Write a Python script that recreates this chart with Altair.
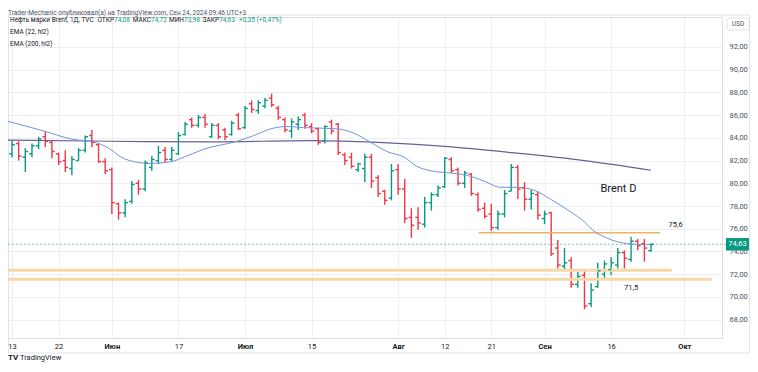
import altair as alt
import pandas as pd

# ---------------- data ----------------
dates = [d.strftime("%Y-%m-%d") for d in pd.bdate_range("2024-05-13", "2024-09-24")]

opens = [82.6, 83.5, 82.3, 82.6, 83.3, 84.1, 83.6, 82.6, 82.0, 81.3,
         82.0, 82.9, 84.2, 83.4, 81.9, 81.2, 78.2, 77.4, 78.4, 80.0,
         79.5, 81.4, 82.0, 82.9, 82.1, 82.6, 84.3, 85.6, 85.1, 85.8,
         84.1, 85.1, 84.7, 84.3, 86.0, 84.9, 87.0, 86.4, 86.8, 87.5,
         86.6, 85.6, 84.6, 85.2, 86.0, 85.0, 84.8, 83.7, 85.4, 85.2,
         82.5, 82.3, 81.2, 81.3, 82.3, 80.5, 79.3, 78.7, 81.2, 79.5,
         77.0, 77.0, 76.4, 78.3, 79.0, 79.7, 82.1, 81.2, 80.0, 80.8,
         79.0, 77.8, 77.3, 76.1, 77.3, 79.3, 81.4, 79.6, 78.6, 79.0,
         76.9, 77.4, 74.3, 72.7, 73.2, 71.1, 71.9, 69.4, 70.9, 72.0,
         72.4, 72.8, 73.9, 73.3, 74.9, 74.7, 74.08]
highs = [83.8, 83.7, 83.1, 83.5, 84.1, 84.6, 83.8, 82.7, 82.9, 82.4,
         83.1, 84.2, 84.7, 83.5, 82.2, 81.4, 78.3, 78.6, 80.2, 80.3,
         82.0, 82.4, 83.3, 83.2, 83.2, 84.5, 85.4, 85.8, 86.0, 86.1,
         85.3, 85.3, 84.9, 85.5, 86.2, 86.8, 87.3, 87.3, 87.5, 87.9,
         86.8, 85.8, 85.7, 85.9, 86.2, 85.3, 84.9, 85.1, 85.6, 85.3,
         82.7, 82.7, 81.8, 82.6, 82.6, 80.7, 79.4, 81.7, 81.7, 80.4,
         77.8, 77.9, 78.8, 79.2, 79.8, 82.3, 82.3, 81.4, 81.1, 80.9,
         79.2, 78.3, 78.2, 77.6, 79.4, 81.7, 81.6, 80.1, 79.4, 79.3,
         77.6, 77.5, 75.0, 74.3, 73.5, 72.2, 72.4, 71.2, 73.0, 73.2,
         73.5, 74.3, 74.1, 75.3, 75.1, 75.1, 74.72]
lows = [82.3, 82.0, 81.0, 82.3, 83.0, 83.2, 82.2, 81.6, 81.0, 80.7,
        82.0, 82.7, 83.2, 81.8, 80.8, 77.3, 76.8, 77.0, 78.2, 79.0,
        79.3, 81.1, 81.7, 81.8, 81.9, 82.5, 84.2, 84.9, 84.9, 84.9,
        84.0, 83.9, 83.8, 84.2, 84.7, 84.8, 86.2, 86.1, 86.6, 86.7,
        85.6, 84.5, 84.0, 84.7, 84.8, 84.4, 83.4, 83.5, 84.3, 82.5,
        81.6, 81.3, 81.0, 80.1, 79.6, 78.8, 78.1, 78.5, 79.0, 76.5,
        75.2, 75.9, 76.1, 77.6, 78.8, 79.6, 80.9, 79.8, 79.6, 78.9,
        77.5, 76.9, 75.8, 75.9, 77.0, 79.3, 78.6, 77.6, 77.7, 76.8,
        76.4, 73.6, 72.5, 72.4, 70.8, 70.8, 68.9, 69.1, 70.8, 71.6,
        71.9, 72.5, 72.5, 73.1, 74.1, 73.1, 73.98]
closes = [83.4, 82.4, 82.8, 83.3, 83.9, 83.7, 82.8, 81.9, 81.4, 82.1,
          82.9, 84.1, 83.6, 81.9, 81.1, 78.3, 77.4, 78.3, 79.9, 79.5,
          81.8, 82.1, 82.7, 82.1, 82.9, 84.2, 85.2, 85.1, 85.8, 85.2,
          85.1, 84.1, 84.1, 85.3, 84.8, 86.6, 86.5, 87.1, 87.3, 86.9,
          85.8, 84.7, 85.4, 85.6, 85.1, 84.6, 83.6, 85.0, 84.6, 82.7,
          82.0, 81.5, 81.7, 82.3, 80.2, 79.1, 78.5, 81.1, 79.5, 76.9,
          76.3, 76.5, 78.3, 79.0, 79.6, 82.2, 81.1, 80.0, 80.9, 79.1,
          77.7, 77.1, 76.1, 77.3, 79.1, 81.4, 79.5, 78.6, 79.1, 77.2,
          77.3, 73.8, 72.8, 73.0, 71.1, 71.8, 69.2, 70.6, 72.3, 72.9,
          73.0, 73.9, 73.4, 74.9, 74.5, 74.3, 74.63]

ema22_idx = [-0.6, 4.8, 8.9, 12.5, 14.5, 16.4, 18.8, 20.5, 23.9, 25.4, 28.8, 33.8,
             36.3, 38.9, 41.3, 43.8, 48.8, 51.4, 53.9, 56.3, 58.9, 60.8, 63.4,
             65.9, 68.3, 70.9, 73.4, 75.8, 78.4, 80.9, 84.0, 86.0, 87.4, 89.3,
             92.3, 95.3, 96.0]
ema22_val = [85.45, 84.6, 83.9, 83.6, 83.1, 82.3, 81.85, 81.75, 81.9, 82.2, 83.0, 83.7,
             84.2, 84.8, 85.0, 84.9, 84.8, 84.4, 83.6, 82.8, 82.3, 81.5, 81.05,
             80.9, 80.7, 80.2, 79.65, 79.65, 79.4, 78.6, 77.45, 76.6, 75.8, 75.2,
             74.7, 74.6, 74.6]

ema200_idx = [-0.6, 15.0, 30.0, 45.0, 55.0, 60.0, 66.0, 75.0, 86.0, 96.0]
ema200_val = [83.8, 83.7, 83.65, 83.75, 83.6, 83.45, 83.2, 82.7, 82.0, 81.15]

level_vals = [75.65, 72.35, 71.55]
level_from = [70.1, -0.6, -0.6]
level_to = [97.4, 99.1, 105.1]
level_w = [1.4, 3.0, 3.0]
level_col = ["#efb45c", "#f6d7a7", "#f6d7a7"]

x_tick_idx = [0, 7, 15, 25, 35, 45, 58, 65, 72, 80, 90, 101]
x_tick_lab = ["13", "22", "Июн", "17", "Июл", "15", "Авг", "12", "21", "Сен", "16", "Окт"]
month_idx = [15, 35, 58, 80, 101]
y_ticks = [68, 70, 72, 74, 76, 78, 80, 82, 84, 86, 88, 90, 92]

# ---------------- styling ----------------
UP = "#089981"
DOWN = "#f23645"
FONT = "Roboto"
TXT = "#131722"
GRID = "#eceef3"
W, H = 714, 321
XDOM = [-0.6, 106.66]
YDOM = [66.38, 94.64]

df = pd.DataFrame({"date": dates, "open": opens, "high": highs, "low": lows, "close": closes})
df["i"] = range(len(df))
df["dir"] = ["up" if c >= o else "down" for o, c in zip(opens, closes)]

col = alt.Color("dir:N", scale=alt.Scale(domain=["up", "down"], range=[UP, DOWN]), legend=None)

lab_expr = "[" + ",".join("'%s'" % s for s in x_tick_lab) + "][indexof([" + ",".join(str(v) for v in x_tick_idx) + "], datum.value)]"
month_test = "indexof([" + ",".join(str(v) for v in month_idx) + "], datum.value) >= 0"

xaxis = alt.Axis(values=x_tick_idx, labelExpr=lab_expr, grid=True, gridColor=GRID, gridWidth=1,
                 domain=False, ticks=False, labelFontSize=7.5, labelFont=FONT, labelColor=TXT,
                 labelPadding=4, title=None, labelFlush=False,
                 labelFontWeight={"condition": {"test": month_test, "value": "bold"}, "value": "normal"})
yaxis = alt.Axis(orient="right", values=y_ticks, labelExpr="replace(format(datum.value, '.2f'), '.', ',')",
                 grid=True, gridColor=GRID, gridWidth=1, domain=False, ticks=False,
                 labelFontSize=7.5, labelFont=FONT, labelColor="#50535e", labelPadding=7, title=None)

xs = alt.Scale(domain=XDOM, nice=False, zero=False)
ys = alt.Scale(domain=YDOM, nice=False, zero=False)


def X(field):
    return alt.X(field, scale=xs, axis=xaxis)


def Y(field):
    return alt.Y(field, scale=ys, axis=yaxis)


base = alt.Chart(df)
hl = base.mark_rule(strokeWidth=1.4).encode(x=X("i:Q"), y=Y("low:Q"), y2="high:Q", color=col)
op = base.transform_calculate(xo="datum.i - 0.42").mark_rule(strokeWidth=1.4).encode(
    x=X("xo:Q"), x2="i:Q", y=Y("open:Q"), color=col)
cl = base.transform_calculate(xc="datum.i + 0.42").mark_rule(strokeWidth=1.4).encode(
    x=X("i:Q"), x2="xc:Q", y=Y("close:Q"), color=col)

ema22 = alt.Chart(pd.DataFrame({"i": ema22_idx, "v": ema22_val})).mark_line(
    color="#6f95d9", strokeWidth=1, interpolate="monotone").encode(x=X("i:Q"), y=Y("v:Q"))
ema200 = alt.Chart(pd.DataFrame({"i": ema200_idx, "v": ema200_val})).mark_line(
    color="#6b5f96", strokeWidth=1.2, interpolate="monotone").encode(x=X("i:Q"), y=Y("v:Q"))

lv = pd.DataFrame({"v": level_vals, "a": level_from, "b": level_to, "w": level_w, "c": level_col})
levels = alt.Chart(lv).mark_rule().encode(
    x=X("a:Q"), x2="b:Q", y=Y("v:Q"),
    strokeWidth=alt.StrokeWidth("w:Q", scale=None, legend=None),
    color=alt.Color("c:N", scale=None, legend=None))

last = pd.DataFrame({"p": [closes[-1]]})
pline = alt.Chart(last).mark_rule(color=UP, strokeWidth=1, strokeDash=[2, 2], opacity=0.55).encode(
    x=alt.value(0), x2=alt.value(718), y=Y("p:Q"))
pbox = alt.Chart(last).transform_calculate(lo="datum.p - 0.55", hi="datum.p + 0.55").mark_rect(
    color=UP).encode(x=alt.value(718), x2=alt.value(741), y=Y("lo:Q"), y2="hi:Q")
ptxt = alt.Chart(last).transform_calculate(t="replace(format(datum.p, '.2f'), '.', ',')").mark_text(
    color="white", fontSize=7.5, font=FONT, align="center", baseline="middle").encode(
    x=alt.value(729.5), y=Y("p:Q"), text="t:N")

ann = pd.DataFrame({"i": [91.1, 99.7, 93.0], "v": [79.5, 76.3, 70.75],
                    "t": ["Brent D", "75,6", "71,5"], "s": [11, 7.5, 7.5]})
anns = alt.Chart(ann).mark_text(color=TXT, font=FONT, align="center", baseline="middle").encode(
    x=X("i:Q"), y=Y("v:Q"), text="t:N",
    size=alt.Size("s:Q", scale=None, legend=None))


def label(text, x, y, color=TXT, size=6.5, weight="normal", align="left"):
    return alt.Chart(pd.DataFrame({"t": [text]})).mark_text(
        color=color, fontSize=size, font=FONT, align=align, baseline="middle", fontWeight=weight
    ).encode(x=alt.value(x), y=alt.value(y), text="t:N")


GREEN_T = "#089981"
texts = [
    label("Trader-Mechanic опубликовал(а) на TradingView.com, Сен 24, 2024 09:46 UTC+3", 0, -4, "#50535e", 6.5),
    label("Нефть марки Brent, 1Д, TVC", 2, 3),
    label("ОТКР", 106, 3, align="right"), label("74,08", 106, 3, GREEN_T),
    label("МАКС", 143, 3, align="right"), label("74,72", 143, 3, GREEN_T),
    label("МИН", 176, 3, align="right"), label("73,98", 176, 3, GREEN_T),
    label("ЗАКР", 211, 3, align="right"), label("74,63", 211, 3, GREEN_T),
    label("+0,35 (+0,47%)", 231, 3, GREEN_T),
    label("EMA (22, hl2)", 2, 15),
    label("EMA (200, hl2)", 2, 27),
    label("USD", 730, 7, "#50535e", 6.5, align="center"),
    label("TV", 0, 341, TXT, 8, "bold"),
    label("TradingView", 12, 341, TXT, 7.5),
]

usd_box = alt.Chart(pd.DataFrame({"a": [0]})).mark_rect(
    fill="white", stroke="#e0e3eb", strokeWidth=1, cornerRadius=2).encode(
    x=alt.value(719), x2=alt.value(741), y=alt.value(1), y2=alt.value(13))
frame = alt.Chart(pd.DataFrame({"a": [0]})).mark_rect(
    filled=False, color="#e0e3eb", strokeWidth=1).encode(
    x=alt.value(0.5), x2=alt.value(741.5), y=alt.value(-2), y2=alt.value(336))

chart = alt.layer(
    hl, frame, levels, pline, ema200, ema22, op, cl, anns, pbox, ptxt, usd_box, *texts
).properties(
    width=W, height=H,
    padding={"left": 0, "top": 9, "right": 28, "bottom": 26},
    autosize=alt.AutoSizeParams(type="none"),
).configure_view(stroke=None).configure(background="white")

chart.save("out.html", embed_options={"renderer": "svg", "actions": False})
